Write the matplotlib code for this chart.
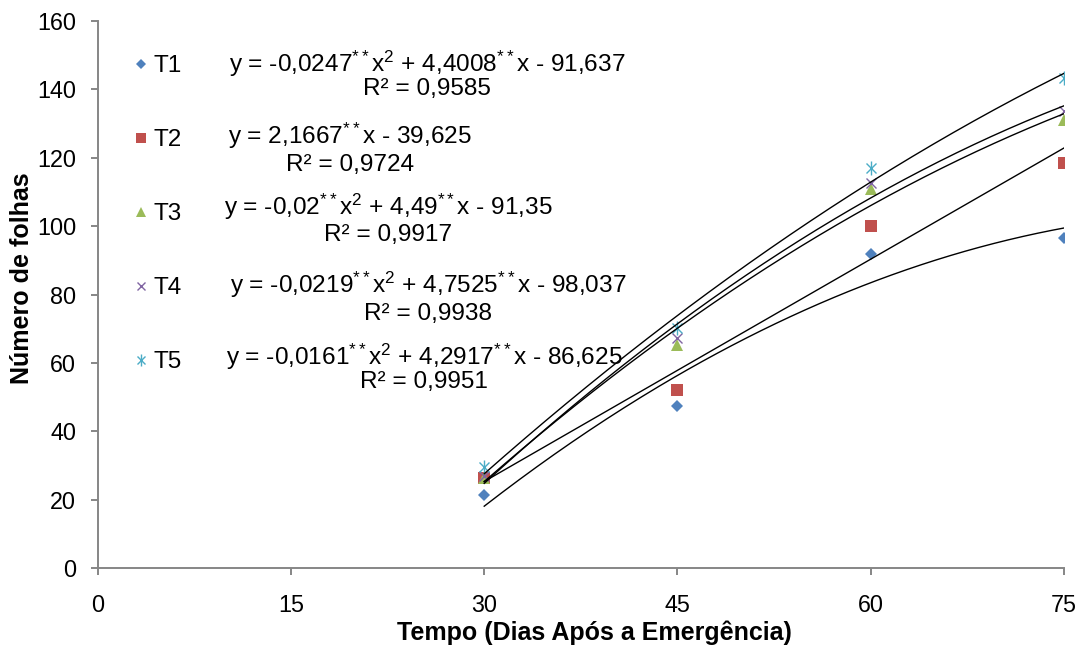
import numpy as np
import matplotlib
matplotlib.use('Agg')
import matplotlib.pyplot as plt
from matplotlib.legend_handler import HandlerTuple

plt.rcParams['font.family'] = ['Liberation Sans', 'DejaVu Sans']
plt.rcParams['mathtext.fontset'] = 'custom'
plt.rcParams['mathtext.rm'] = 'Liberation Sans'
plt.rcParams['mathtext.it'] = 'Liberation Sans'
plt.rcParams['mathtext.default'] = 'regular'

# ---- data ----
days = [30, 45, 60, 75]
t1 = [21.3, 47.5, 91.9, 96.5]
t2 = [26.3, 52.1, 100.2, 118.5]
t3 = [26.5, 65.2, 111.0, 131.0]
t4 = [27.0, 67.3, 112.7, 133.7]
t5 = [29.6, 70.3, 116.9, 143.2]
series_names = ['T1', 'T2', 'T3', 'T4', 'T5']

# trend-line coefficients (highest power first), as printed on the chart
coef_t1 = [-0.0247, 4.4008, -91.637]
coef_t2 = [2.1667, -39.625]
coef_t3 = [-0.02, 4.49, -91.35]
coef_t4 = [-0.0219, 4.7525, -98.037]
coef_t5 = [-0.0161, 4.2917, -86.625]

eq_labels = [
    r'y = -0,0247$^{**}$x$^{2}$ + 4,4008$^{**}$x - 91,637',
    r'y = 2,1667$^{**}$x - 39,625',
    r'y = -0,02$^{**}$x$^{2}$ + 4,49$^{**}$x - 91,35',
    r'y = -0,0219$^{**}$x$^{2}$ + 4,7525$^{**}$x - 98,037',
    r'y = -0,0161$^{**}$x$^{2}$ + 4,2917$^{**}$x - 86,625',
]
r2_labels = ['R² = 0,9585', 'R² = 0,9724', 'R² = 0,9917', 'R² = 0,9938', 'R² = 0,9951']

x_ticks = [0, 15, 30, 45, 60, 75]
y_ticks = [0, 20, 40, 60, 80, 100, 120, 140, 160]

colors = ['#4F81BD', '#C0504D', '#9BBB59', '#8064A2', '#4BACC6']

W, H = 1078, 646
fig = plt.figure(figsize=(W / 100, H / 100), dpi=100)
ax = fig.add_axes([97.7 / W, 1 - 568.3 / H, 966.3 / W, 547.3 / H])

def fxy(px, py):
    return px / W, 1 - py / H

gray = '#868686'

# ---- markers ----
h1, = ax.plot(days, t1, linestyle='none', marker='D', ms=6.2, color=colors[0], mew=0, zorder=3)
h2, = ax.plot(days, t2, linestyle='none', marker='s', ms=8.4, color=colors[1], mew=0, zorder=3)
h3, = ax.plot(days, t3, linestyle='none', marker='^', ms=9.0, color=colors[2], mew=0, zorder=3)
h4, = ax.plot(days, t4, linestyle='none', marker='x', ms=7.8, color=colors[3], mew=1.0, zorder=3)
h5a, = ax.plot(days, t5, linestyle='none', marker='x', ms=7.8, color=colors[4], mew=1.0, zorder=3)
h5b, = ax.plot(days, t5, linestyle='none', marker='|', ms=10, color=colors[4], mew=1.0, zorder=3)

# ---- trend lines ----
xs = np.linspace(days[0], days[-1], 200)
for c in [coef_t1, coef_t2, coef_t3, coef_t4, coef_t5]:
    ax.plot(xs, np.polyval(c, xs), color='black', lw=1.0, zorder=4)

# ---- axes ----
ax.set_xlim(0, 75)
ax.set_ylim(0, 160)
ax.set_xticks(x_ticks)
ax.set_yticks(y_ticks)
ax.set_xticklabels([str(v) for v in x_ticks])
ax.set_yticklabels([str(v) for v in y_ticks])
for s in ['top', 'right']:
    ax.spines[s].set_visible(False)
for s in ['left', 'bottom']:
    ax.spines[s].set_color(gray)
    ax.spines[s].set_linewidth(1.4)
ax.tick_params(axis='both', direction='out', length=5, width=1.4, color=gray,
               labelsize=16.8, labelcolor='black')
ax.tick_params(axis='y', pad=10.5)
ax.tick_params(axis='x', pad=13.5)

ax.set_xlabel('Tempo (Dias Após a Emergência)', fontsize=18, fontweight='bold')
ax.set_ylabel('Número de folhas', fontsize=18, fontweight='bold')
ax.xaxis.set_label_coords((594.5 - 97.7) / 966.3, -(632.5 - 568.3) / 547.3)
ax.xaxis.label.set_va('center')
ax.yaxis.set_label_coords((22.5 - 97.7) / 966.3, (568.3 - 278) / 547.3)
ax.yaxis.label.set_va('center')

# ---- legend ----
leg = ax.legend([h1, h2, h3, h4, (h5a, h5b)], series_names,
                handler_map={tuple: HandlerTuple(ndivide=1)},
                loc='upper left', bbox_to_anchor=fxy(134, 55),
                bbox_transform=fig.transFigure, frameon=False,
                fontsize=17.5, handlelength=0.55, handletextpad=0.25,
                labelspacing=2.14, borderpad=0, borderaxespad=0,
                markerscale=0.8)

# ---- trend equations ----
eq_centers_x = [427, 350, 388, 428, 424.5]
eq_base_y = [71.7, 144.3, 215, 293.3, 365]
r2_base_y = [95, 171, 241, 320, 388.3]
for i in range(5):
    fig.text(*fxy(eq_centers_x[i], eq_base_y[i]), eq_labels[i], fontsize=17.6,
             ha='center', va='baseline')
    fig.text(*fxy(eq_centers_x[i], r2_base_y[i]), r2_labels[i], fontsize=17.6,
             ha='center', va='baseline')

fig.savefig('out.png', dpi=100)
